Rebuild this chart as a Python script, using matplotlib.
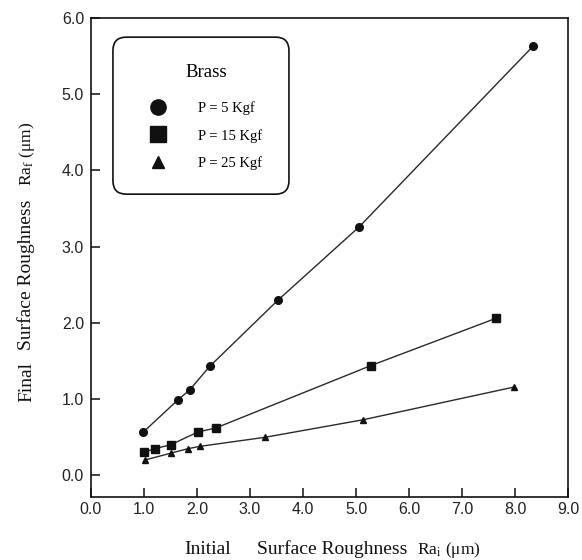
import matplotlib
matplotlib.use("Agg")
import matplotlib.pyplot as plt
from matplotlib.lines import Line2D
from matplotlib.patches import FancyBboxPatch

plt.rcParams['mathtext.fontset'] = 'stix'

# ---- data ----
x_p5 = [0.99, 1.64, 1.86, 2.24, 3.53, 5.06, 8.34]
y_p5 = [0.57, 0.99, 1.12, 1.43, 2.30, 3.26, 5.63]

x_p15 = [1.00, 1.20, 1.50, 2.02, 2.35, 5.28, 7.64]
y_p15 = [0.30, 0.35, 0.40, 0.57, 0.62, 1.44, 2.06]

x_p25 = [1.01, 1.50, 1.83, 2.05, 3.29, 5.14, 7.99]
y_p25 = [0.20, 0.29, 0.35, 0.38, 0.50, 0.73, 1.16]

series_labels = ["P = 5 Kgf", "P = 15 Kgf", "P = 25 Kgf"]
legend_title = "Brass"
xticks = [0, 1, 2, 3, 4, 5, 6, 7, 8, 9]
yticks = [0, 1, 2, 3, 4, 5, 6]

W, H = 582, 560
fig = plt.figure(figsize=(W / 100, H / 100), dpi=100)
ax = fig.add_axes([91 / W, 1 - 496.7 / H, (568 - 91) / W, (496.7 - 18) / H])

serif = 'Liberation Serif'
sans = 'Liberation Sans'
ink = '#111111'
linec = '#2a2a2a'

ax.plot(x_p5, y_p5, color=linec, lw=1.0, marker='o', ms=5.5, mfc=ink, mec=ink, zorder=3)
ax.plot(x_p15, y_p15, color=linec, lw=1.0, marker='s', ms=5.5, mfc=ink, mec=ink, zorder=3)
ax.plot(x_p25, y_p25, color=linec, lw=1.0, marker='^', ms=4.5, mfc=ink, mec=ink, zorder=3)

ax.set_xlim(0, 9)
ax.set_ylim(-0.28, 6.0)
ax.set_xticks(xticks)
ax.set_yticks(yticks)
ax.set_xticklabels([f"{v:.1f}" for v in xticks], family=sans, fontsize=11.5, color='#222222')
ax.set_yticklabels([f"{v:.1f}" for v in yticks], family=sans, fontsize=11.5, color='#222222')
ax.tick_params(axis='x', direction='in', length=6.5, width=1.1, pad=4, color=ink)
ax.tick_params(axis='y', direction='in', length=6.5, width=1.1, pad=5, color=ink)
for s in ax.spines.values():
    s.set_linewidth(1.2)
    s.set_color(ink)

# legend frame (rounded box)
frame = FancyBboxPatch((0.046, 0.632), 0.369, 0.328,
                       boxstyle="round,pad=0,rounding_size=0.028",
                       transform=ax.transAxes, fc='white', ec=ink, lw=1.2, zorder=4)
ax.add_patch(frame)

handles = [
    Line2D([], [], ls='none', marker='o', ms=11, color=ink),
    Line2D([], [], ls='none', marker='s', ms=11, color=ink),
    Line2D([], [], ls='none', marker='^', ms=8.5, color=ink),
]
leg = ax.legend(handles, series_labels, title=legend_title, loc='center',
                bbox_to_anchor=(0.2423, 0.793), frameon=False,
                prop={'family': serif, 'size': 10.5},
                title_fontproperties={'family': serif, 'size': 13.5},
                handlelength=1.0, handletextpad=2.2, labelspacing=0.97)
leg.set_zorder(5)
try:
    leg._legend_box.sep = 14.5  # extra gap between title and entries
except Exception:
    pass

# axis labels
base_x = 1 - 553.5 / H
fig.text(184 / W, base_x, "Initial", family=serif, fontsize=14,
         ha='left', va='baseline', color=ink)
fig.text(257 / W, base_x, "Surface Roughness", family=serif, fontsize=14,
         ha='left', va='baseline', color=ink)
fig.text(417 / W, base_x, r"Ra$_\mathrm{i}$ (μm)", family=serif,
         fontsize=12.5, ha='left', va='baseline', color=ink)

base_y = 31 / W
fig.text(base_y, 1 - 402 / H, "Final", family=serif, fontsize=14,
         ha='left', va='baseline', rotation=90, rotation_mode='anchor', color=ink)
fig.text(base_y, 1 - 350 / H, "Surface Roughness", family=serif, fontsize=14,
         ha='left', va='baseline', rotation=90, rotation_mode='anchor', color=ink)
fig.text(base_y, 1 - 186 / H, r"Ra$_\mathrm{f}$ (μm)", family=serif,
         fontsize=12.5, ha='left', va='baseline', rotation=90,
         rotation_mode='anchor', color=ink)

fig.savefig("out.png", dpi=100)
